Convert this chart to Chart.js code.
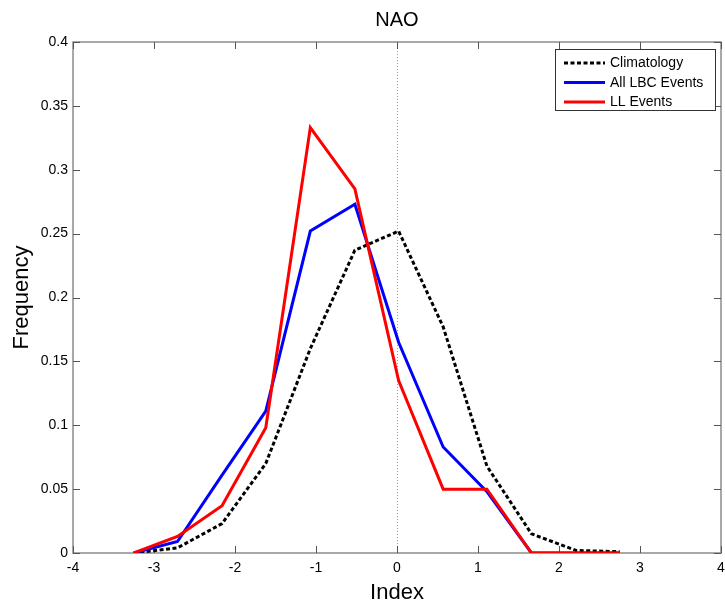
<!DOCTYPE html>
<html>
<head>
<meta charset="utf-8">
<script src="https://cdn.jsdelivr.net/npm/chart.js@4.4.1/dist/chart.umd.min.js"></script>
<style>
  body { margin: 0; background: #fff; }
  canvas { display: block; }
</style>
</head>
<body>
<canvas id="grafica" width="725" height="607"></canvas>
<script>
// Datos
const indice = [-3.25, -2.71, -2.16, -1.62, -1.07, -0.52, 0.02, 0.57, 1.11, 1.66, 2.21, 2.75];
const climatologia = [0, 0.004, 0.023, 0.070, 0.160, 0.237, 0.252, 0.177, 0.068, 0.015, 0.002, 0.001];
const eventosLBC = [0, 0.009, 0.061, 0.111, 0.252, 0.273, 0.165, 0.083, 0.048, 0, 0, 0];
const eventosLL = [0, 0.013, 0.037, 0.098, 0.333, 0.285, 0.135, 0.050, 0.050, 0, 0, 0];
const ticksX = [-4, -3, -2, -1, 0, 1, 2, 3, 4];
const ticksY = [0, 0.05, 0.1, 0.15, 0.2, 0.25, 0.3, 0.35, 0.4];

const fuente = '"Liberation Sans", Arial, Helvetica, sans-serif';

function puntos(valores) {
    return indice.map((x, i) => ({ x: x, y: valores[i] }));
}

// Etiquetas al estilo MATLAB: 0.4, 0.35, 0
const etiqueta = v => String(+Number(v).toFixed(2));

// Marco estilo MATLAB: caja, marcas hacia dentro, línea en cero y leyenda
const marco = {
    id: 'marco',
    beforeDatasetsDraw(chart) {
        const { ctx, chartArea: a, scales: { x, y } } = chart;
        ctx.save();
        // línea punteada en x = 0
        const x0 = Math.round(x.getPixelForValue(0)) + 0.5;
        ctx.strokeStyle = '#9a9a9a';
        ctx.lineWidth = 1;
        ctx.setLineDash([1, 2]);
        ctx.beginPath();
        ctx.moveTo(x0, a.top);
        ctx.lineTo(x0, a.bottom);
        ctx.stroke();
        ctx.setLineDash([]);

        // caja
        ctx.strokeStyle = '#8c8c8c';
        ctx.lineWidth = 1.5;
        ctx.strokeRect(a.left, a.top, a.right - a.left, a.bottom - a.top);

        // marcas hacia dentro
        const largo = 7;
        ctx.lineWidth = 1;
        ctx.strokeStyle = '#555';
        ctx.beginPath();
        ticksX.forEach(v => {
            const px = Math.round(x.getPixelForValue(v)) + 0.5;
            ctx.moveTo(px, a.bottom); ctx.lineTo(px, a.bottom - largo);
            ctx.moveTo(px, a.top); ctx.lineTo(px, a.top + largo);
        });
        ticksY.forEach(v => {
            const py = Math.round(y.getPixelForValue(v)) + 0.5;
            ctx.moveTo(a.left, py); ctx.lineTo(a.left + largo, py);
            ctx.moveTo(a.right, py); ctx.lineTo(a.right - largo, py);
        });
        ctx.stroke();
        ctx.restore();
    },
    afterDatasetsDraw(chart) {
        const { ctx, chartArea: a } = chart;
        const ancho = 160, alto = 61;
        const bx = a.right - 6 - ancho, by = a.top + 7;
        ctx.save();
        ctx.fillStyle = '#fff';
        ctx.fillRect(bx, by, ancho, alto);
        ctx.strokeStyle = '#333';
        ctx.lineWidth = 1;
        ctx.strokeRect(bx + 0.5, by + 0.5, ancho, alto);
        ctx.font = '14px ' + fuente;
        ctx.textBaseline = 'middle';
        ctx.fillStyle = '#000';
        chart.data.datasets.forEach((ds, i) => {
            const cy = by + 14 + i * 19.5;
            ctx.strokeStyle = ds.borderColor;
            ctx.lineWidth = ds.borderWidth;
            ctx.setLineDash(ds.borderDash || []);
            ctx.beginPath();
            ctx.moveTo(bx + 9, cy);
            ctx.lineTo(bx + 50, cy);
            ctx.stroke();
            ctx.setLineDash([]);
            ctx.fillText(ds.label, bx + 55, cy + 0.5);
        });
        ctx.restore();
    }
};

const ctx = document.getElementById('grafica').getContext('2d');

const grafica = new Chart(ctx, {
    type: 'line',
    data: {
        datasets: [
            {
                label: 'Climatology',
                data: puntos(climatologia),
                borderColor: '#000000',
                borderWidth: 3,
                borderDash: [4, 2.5],
                borderCapStyle: 'butt',
                order: 3
            },
            {
                label: 'All LBC Events',
                data: puntos(eventosLBC),
                borderColor: '#0000ff',
                borderWidth: 3,
                order: 2
            },
            {
                label: 'LL Events',
                data: puntos(eventosLL),
                borderColor: '#ff0000',
                borderWidth: 3,
                order: 1
            }
        ]
    },
    options: {
        responsive: false,
        animation: false,
        layout: { padding: { top: 0, right: 4, bottom: 0, left: 0 } },
        elements: {
            point: { radius: 0, hoverRadius: 0 },
            line: { tension: 0, fill: false }
        },
        plugins: {
            legend: { display: false },
            tooltip: { enabled: false },
            title: {
                display: true,
                text: 'NAO',
                fullSize: false,
                color: '#000',
                font: { family: fuente, size: 20, weight: 'normal' },
                padding: { top: 8, bottom: 10 }
            }
        },
        scales: {
            x: {
                type: 'linear',
                min: -4,
                max: 4,
                afterBuildTicks: s => { s.ticks = ticksX.map(v => ({ value: v })); },
                afterFit: s => { s.height = 54; s.paddingLeft = 0; s.paddingRight = 0; },
                grid: { display: false, drawTicks: false },
                border: { display: false },
                ticks: { padding: 7, color: '#000', font: { family: fuente, size: 14 }, callback: etiqueta },
                title: {
                    display: true,
                    text: 'Index',
                    color: '#000',
                    font: { family: fuente, size: 22 },
                    padding: { top: 0, bottom: 1 }
                }
            },
            y: {
                type: 'linear',
                min: 0,
                max: 0.4,
                afterBuildTicks: s => { s.ticks = ticksY.map(v => ({ value: v })); },
                afterFit: s => { s.width = 73; s.paddingTop = 0; s.paddingBottom = 0; },
                grid: { display: false, drawTicks: false },
                border: { display: false },
                ticks: { padding: 5, color: '#000', font: { family: fuente, size: 14 }, callback: etiqueta },
                title: {
                    display: true,
                    text: 'Frequency',
                    color: '#000',
                    font: { family: fuente, size: 22 },
                    padding: { top: 9, bottom: 0 }
                }
            }
        }
    },
    plugins: [marco]
});
</script>
</body>
</html>
